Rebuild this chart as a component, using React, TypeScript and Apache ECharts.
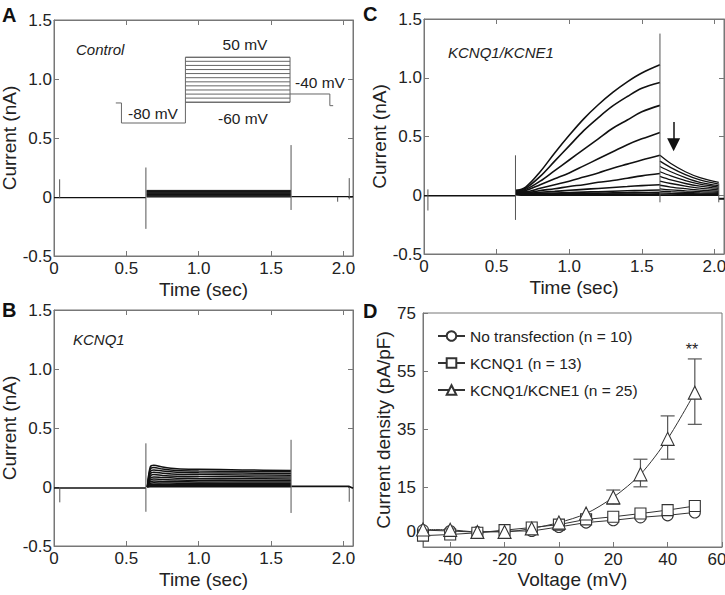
import React, { useEffect, useRef } from "react";
import * as echarts from "echarts";

const FONT = "'Liberation Sans', Arial, Helvetica, sans-serif";
const AXIS = "#777";
const TXT = "#222";

// ---------- shared tick labels ----------
const timeTicks = [0, 0.5, 1.0, 1.5, 2.0];
const voltageTicks = [-40, -20, 0, 20, 40, 60];
const densityTicks = [0, 15, 35, 55, 75];

// ---------- Panel A (Control) ----------
const aStepLevels = [0.0, 0.006, 0.011, 0.016, 0.021, 0.026, 0.031, 0.036, 0.041, 0.046, 0.051, 0.056];
const aBaseline = [[0, -0.005], [0.635, -0.005]];
const aAfter = [[1.64, 0.003], [2.066, 0.003]];
const aSpikes = [[0.039, -0.01, 0.15], [0.635, -0.27, 0.25], [1.638, -0.11, 0.44], [1.96, -0.04, 0.0], [2.04, -0.02, 0.16]];

// voltage protocol inset (drawn in panel A data space)
const protoOutline = [[0.427, 0.797], [0.466, 0.797], [0.466, 0.627], [0.908, 0.627], [0.908, 1.184], [1.631, 1.184], [1.631, 0.803], [0.908, 0.803]];
const protoLevels = [0.803, 0.838, 0.872, 0.907, 0.942, 0.976, 1.011, 1.046, 1.08, 1.115, 1.15, 1.184];
const protoTail = [[1.631, 0.873], [1.906, 0.873], [1.906, 0.774], [1.929, 0.774]];

// ---------- Panel B (KCNQ1) ----------
const bTimes = [0.645, 0.665, 0.69, 0.75, 0.85, 1.0, 1.3, 1.638];
const bTraces = [
  [0.0, 0.17, 0.185, 0.17, 0.155, 0.15, 0.145, 0.14],
  [0.0, 0.15, 0.165, 0.152, 0.14, 0.135, 0.132, 0.13],
  [0.0, 0.13, 0.145, 0.135, 0.125, 0.12, 0.118, 0.115],
  [0.0, 0.11, 0.125, 0.117, 0.108, 0.105, 0.102, 0.1],
  [0.0, 0.09, 0.105, 0.098, 0.092, 0.088, 0.086, 0.085],
  [0.0, 0.075, 0.085, 0.08, 0.075, 0.072, 0.07, 0.068],
  [0.0, 0.06, 0.068, 0.063, 0.06, 0.057, 0.056, 0.055],
  [0.0, 0.045, 0.05, 0.047, 0.045, 0.043, 0.042, 0.042],
  [0.0, 0.032, 0.036, 0.034, 0.032, 0.031, 0.03, 0.03],
  [0.0, 0.02, 0.023, 0.022, 0.021, 0.02, 0.02, 0.02],
  [0.0, 0.01, 0.012, 0.011, 0.011, 0.01, 0.01, 0.01],
  [0.0, 0.002, 0.003, 0.002, 0.002, 0.002, 0.002, 0.002],
];
const bBaseline = [[0, -0.008], [0.635, -0.008]];
const bAfter = [[1.64, 0.005], [2.04, 0.005], [2.066, -0.01]];
const bSpikes = [[0.04, -0.13, 0.0], [0.635, -0.21, 0.37], [1.638, -0.22, 0.4], [2.04, -0.125, 0.0]];

// ---------- Panel C (KCNQ1/KCNE1) ----------
const cPulseTimes = [0.63, 0.7, 0.8, 0.9, 1.0, 1.1, 1.2, 1.3, 1.4, 1.5, 1.625];
const cPulse = [
  [0.04, 0.07, 0.2, 0.36, 0.51, 0.65, 0.77, 0.875, 0.965, 1.04, 1.11],
  [0.04, 0.06, 0.16, 0.29, 0.42, 0.55, 0.66, 0.76, 0.84, 0.91, 0.96],
  [0.035, 0.05, 0.12, 0.21, 0.3, 0.39, 0.48, 0.57, 0.64, 0.71, 0.765],
  [0.03, 0.04, 0.09, 0.14, 0.19, 0.25, 0.31, 0.37, 0.43, 0.48, 0.535],
  [0.03, 0.03, 0.06, 0.09, 0.12, 0.155, 0.19, 0.23, 0.265, 0.3, 0.34],
  [0.025, 0.02, 0.04, 0.055, 0.075, 0.09, 0.11, 0.125, 0.145, 0.165, 0.185],
  [0.02, 0.015, 0.025, 0.033, 0.042, 0.05, 0.058, 0.066, 0.074, 0.082, 0.09],
  [0.02, 0.01, 0.015, 0.019, 0.023, 0.027, 0.03, 0.034, 0.038, 0.041, 0.045],
  [0.015, 0.008, 0.01, 0.012, 0.014, 0.016, 0.018, 0.02, 0.021, 0.023, 0.025],
  [0.01, 0.005, 0.006, 0.007, 0.008, 0.009, 0.009, 0.01, 0.011, 0.011, 0.012],
  [0.008, 0.003, 0.003, 0.004, 0.004, 0.004, 0.005, 0.005, 0.005, 0.005, 0.005],
  [0.005, 0.0, 0.0, 0.0, 0.0, 0.0, 0.0, 0.0, 0.0, 0.0, 0.0],
];
const cTailTimes = [1.625, 1.7, 1.8, 1.9, 2.03];
const cTails = [
  [0.34, 0.27, 0.2, 0.15, 0.11],
  [0.29, 0.235, 0.175, 0.13, 0.095],
  [0.245, 0.2, 0.15, 0.11, 0.082],
  [0.2, 0.165, 0.125, 0.095, 0.07],
  [0.16, 0.13, 0.1, 0.078, 0.058],
  [0.12, 0.1, 0.078, 0.06, 0.045],
  [0.085, 0.07, 0.056, 0.044, 0.034],
  [0.055, 0.046, 0.038, 0.03, 0.024],
  [0.035, 0.03, 0.025, 0.02, 0.016],
  [0.02, 0.017, 0.014, 0.012, 0.01],
  [0.01, 0.009, 0.008, 0.007, 0.006],
  [0.0, 0.0, 0.0, 0.0, 0.0],
];
const cBaseline = [[0, -0.005], [0.63, -0.005]];
const cAfter = [[2.03, -0.03], [2.066, -0.03]];
const cSpikes = [[0.027, -0.13, 0.05], [0.63, -0.21, 0.34], [1.625, -0.06, 1.376], [2.03, -0.06, 0.1]];
const cArrow = [[1.719, 0.624], [1.719, 0.43]];

// ---------- Panel D (I-V) ----------
const voltages = [-50, -40, -30, -20, -10, 0, 10, 20, 30, 40, 50];
const noTransfection = [0.3, 0.0, -0.4, 0.0, 0.0, 1.4, 2.9, 3.7, 4.7, 5.4, 6.4];
const kcnq1 = [-1.6, -1.2, -0.6, 0.3, 1.2, 2.2, 4.0, 4.9, 6.0, 7.2, 8.6];
const kcnq1Kcne1 = [0.5, 0.4, -0.3, -0.3, 0.9, 2.9, 6.0, 11.6, 19.5, 31.7, 47.6];
const kcnq1Kcne1Err = [[20, 9.2, 14.1], [30, 15.2, 24.7], [40, 24.7, 39.6], [50, 36.7, 59.2]];
const seriesNames = ["No transfection (n = 10)", "KCNQ1 (n = 13)", "KCNQ1/KCNE1 (n = 25)"];

const grids = [
  { left: 54, top: 20, width: 299, height: 236 },
  { left: 54, top: 310, width: 299, height: 236 },
  { left: 424, top: 19, width: 300, height: 235 },
  { left: 423, top: 313, width: 299, height: 234 },
];

const fmtTime = (v: number) => (Math.abs(v) < 1e-9 ? "0" : v.toFixed(1));

function App() {
  const ref = useRef<HTMLDivElement>(null);
  useEffect(() => {
    if (!ref.current) return;
    const chart = echarts.init(ref.current, undefined, { renderer: "svg" });

    const tick = { show: true, inside: true, length: 5, lineStyle: { color: AXIS, width: 1 } };
    const line = { show: true, onZero: false, lineStyle: { color: AXIS, width: 1 } };
    const label = { color: TXT, fontSize: 17, fontFamily: FONT, lineHeight: 14 };
    const nameStyle = { color: TXT, fontSize: 19, fontFamily: FONT };

    const timeX = (g: number, pos: string, showLabel: boolean) => ({
      type: "value", gridIndex: g, position: pos, min: 0, max: 2.066,
      axisLine: line,
      axisTick: { ...tick, customValues: timeTicks },
      axisLabel: { ...label, show: showLabel, margin: 5, customValues: timeTicks, formatter: fmtTime },
      splitLine: { show: false },
      name: showLabel ? "Time (sec)" : "",
      nameLocation: "middle", nameGap: 24,
      nameTextStyle: nameStyle,
    });
    const curY = (g: number, pos: string, showLabel: boolean, gap: number) => ({
      type: "value", gridIndex: g, position: pos, min: -0.5, max: 1.5, interval: 0.5,
      axisLine: line, axisTick: tick,
      axisLabel: { ...label, show: showLabel, margin: 2, formatter: fmtTime },
      splitLine: { show: false },
      name: showLabel ? "Current (nA)" : "",
      nameLocation: "middle", nameGap: gap,
      nameTextStyle: nameStyle,
    });

    const xAxis: any[] = [
      timeX(0, "bottom", true), timeX(1, "bottom", true), timeX(2, "bottom", true),
      {
        type: "value", gridIndex: 3, position: "bottom", min: -50, max: 60,
        axisLine: line,
        axisTick: { ...tick, customValues: voltageTicks },
        axisLabel: {
          ...label, margin: 5, customValues: voltageTicks, hideOverlap: false,
          formatter: (v: number) => (v === 60 ? "{r|60}" : String(v)),
          rich: { r: { color: TXT, fontSize: 17, fontFamily: FONT, lineHeight: 14, padding: [0, 10, 0, 0] } },
        },
        splitLine: { show: false },
        name: "Voltage (mV)", nameLocation: "middle", nameGap: 23,
        nameTextStyle: nameStyle,
      },
      timeX(0, "top", false), timeX(1, "top", false), timeX(2, "top", false),
    ];
    const yAxis: any[] = [
      curY(0, "left", true, 33), curY(1, "left", true, 33), curY(2, "left", true, 28),
      {
        type: "value", gridIndex: 3, position: "left", min: -5.5, max: 75,
        axisLine: line,
        axisTick: { ...tick, customValues: densityTicks },
        axisLabel: { ...label, margin: 7, customValues: densityTicks },
        splitLine: { show: false },
        name: "Current density (pA/pF)", nameLocation: "middle", nameGap: 27,
        nameTextStyle: nameStyle,
      },
      curY(0, "right", false, 0), curY(1, "right", false, 0), curY(2, "right", false, 0),
    ];

    const series: any[] = [];
    const addLine = (g: number, data: any[], color: string, width: number, smooth: any = false, extra: any = {}) => {
      series.push({
        type: "line", xAxisIndex: g, yAxisIndex: g, data, showSymbol: false, symbol: "none",
        smooth, lineStyle: { color, width }, silent: true, z: 2, ...extra,
      });
    };
    const addSpikes = (g: number, spikes: number[][]) => {
      spikes.forEach(([t, lo, hi]) => addLine(g, [[t, lo], [t, hi]], "#555", 1));
    };

    // Panel A
    addLine(0, aBaseline, "#111", 1.3);
    addLine(0, aAfter, "#111", 1.3);
    aStepLevels.forEach((lv) => addLine(0, [[0.64, lv], [1.638, lv]], "#111", 1));
    addSpikes(0, aSpikes);
    addLine(0, protoOutline, "#666", 1);
    protoLevels.forEach((lv) => addLine(0, [[0.908, lv], [1.631, lv]], "#666", 1));
    addLine(0, protoTail, "#666", 1);

    // Panel B
    addLine(1, bBaseline, "#111", 1.6);
    addLine(1, bAfter, "#111", 1.6);
    bTraces.forEach((tr) => addLine(1, bTimes.map((t, i) => [t, tr[i]]), "#111", 1.5, 0.3));
    addSpikes(1, bSpikes);

    // Panel C
    addLine(2, cBaseline, "#111", 1.5, false, {
      markLine: {
        silent: true, symbol: ["none", "triangle"], symbolSize: 13,
        lineStyle: { color: "#111", width: 1.5, type: "solid" }, label: { show: false },
        data: [[{ coord: cArrow[0] }, { coord: cArrow[1] }]],
      },
    });
    addLine(2, cAfter, "#111", 2);
    cPulse.forEach((tr) => addLine(2, cPulseTimes.map((t, i) => [t, tr[i]]), "#111", 1.6, 0.35));
    cTails.forEach((tr) => addLine(2, cTailTimes.map((t, i) => [t, tr[i]]), "#111", 1.3, 0.35));
    addSpikes(2, cSpikes);

    // Panel D
    const symStyle = { color: "#fff", borderColor: "#333", borderWidth: 1.1 };
    const dSeries = [
      { name: seriesNames[0], data: noTransfection, symbol: "circle", symbolSize: 11, smooth: false },
      { name: seriesNames[1], data: kcnq1, symbol: "rect", symbolSize: 11, smooth: false },
      { name: seriesNames[2], data: kcnq1Kcne1, symbol: "triangle", symbolSize: 13, smooth: 0.3 },
    ];
    series.push({
      type: "custom", xAxisIndex: 3, yAxisIndex: 3, data: kcnq1Kcne1Err, z: 2, silent: true,
      encode: { x: 0, y: [1, 2] },
      renderItem: (params: any, api: any) => {
        const lo = api.coord([api.value(0), api.value(1)]);
        const hi = api.coord([api.value(0), api.value(2)]);
        const w = 7;
        const st = { stroke: "#555", lineWidth: 1.2 };
        return {
          type: "group",
          children: [
            { type: "line", shape: { x1: lo[0], y1: lo[1], x2: hi[0], y2: hi[1] }, style: st },
            { type: "line", shape: { x1: lo[0] - w, y1: lo[1], x2: lo[0] + w, y2: lo[1] }, style: st },
            { type: "line", shape: { x1: hi[0] - w, y1: hi[1], x2: hi[0] + w, y2: hi[1] }, style: st },
          ],
        };
      },
    });
    dSeries.forEach((s) => {
      series.push({
        type: "line", name: s.name, xAxisIndex: 3, yAxisIndex: 3,
        data: voltages.map((v, i) => [v, s.data[i]]),
        symbol: s.symbol, symbolSize: s.symbolSize, showSymbol: true, smooth: s.smooth,
        lineStyle: { color: "#333", width: 1 }, itemStyle: symStyle, z: 3, silent: true,
      });
    });

    const txt = (text: string, x: number, y: number, size: number, extra: any = {}) => ({
      type: "text", x, y, silent: true,
      style: { text, fill: TXT, fontSize: size, fontFamily: FONT, textVerticalAlign: "middle", ...extra },
    });

    const option: any = {
      animation: false,
      backgroundColor: "#fff",
      textStyle: { fontFamily: FONT },
      grid: grids.map((g) => ({ ...g, show: true, borderColor: AXIS, borderWidth: 1, containLabel: false, outerBoundsMode: "none" })),
      xAxis, yAxis, series,
      legend: {
        data: seriesNames, orient: "vertical", left: 437, top: 327, padding: 0,
        itemWidth: 27, itemHeight: 12, itemGap: 9,
        textStyle: { color: TXT, fontSize: 15.5, fontFamily: FONT, lineHeight: 18 },
        selectedMode: false,
      },
      graphic: [
        txt("A", 2, 15, 20, { fontWeight: "bold", fill: "#111" }),
        txt("B", 2, 310, 20, { fontWeight: "bold", fill: "#111" }),
        txt("C", 363, 14, 20, { fontWeight: "bold", fill: "#111" }),
        txt("D", 363, 311, 20, { fontWeight: "bold", fill: "#111" }),
        txt("Control", 76, 49, 15, { fontStyle: "italic" }),
        txt("KCNQ1", 73, 339, 15, { fontStyle: "italic" }),
        txt("KCNQ1/KCNE1", 448, 52, 15, { fontStyle: "italic" }),
        txt("50 mV", 245, 44, 15.5, { textAlign: "center" }),
        txt("-40 mV", 295, 82, 15.5),
        txt("-80 mV", 128, 113, 15.5),
        txt("-60 mV", 218, 118, 15.5),
        txt("**", 692, 349, 16, { textAlign: "center" }),
      ],
    };
    chart.setOption(option);
    return () => chart.dispose();
  }, []);
  return <div ref={ref} style={{ position: "fixed", left: 0, top: 0, width: 725, height: 595, background: "#fff" }} />;
}

export default App;
